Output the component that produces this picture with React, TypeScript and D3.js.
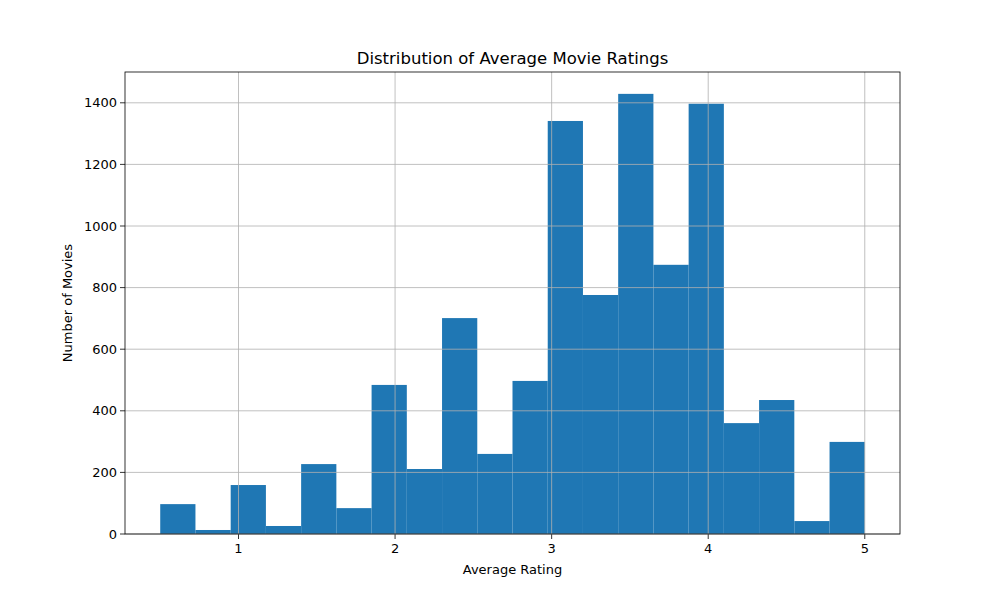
import * as d3 from 'd3';

const binEdges = d3.range(21).map(i => 0.5 + i * 0.225);
const counts = [97, 13, 159, 26, 227, 84, 484, 211, 701, 260, 497, 1341, 776, 1429, 874, 1397, 360, 435, 42, 299];
const xTicks = [1, 2, 3, 4, 5];
const yTicks = [0, 200, 400, 600, 800, 1000, 1200, 1400];

const W = 1000;
const H = 600;
const margin = { top: 72, right: 100, bottom: 66, left: 125 };

export default function App() {
  const innerW = W - margin.left - margin.right;
  const innerH = H - margin.top - margin.bottom;
  const x = d3.scaleLinear().domain([0.275, 5.225]).range([0, innerW]);
  const y = d3.scaleLinear().domain([0, 1500]).range([innerH, 0]);
  const font = 'DejaVu Sans, sans-serif';

  return (
    <svg width={W} height={H} style={{ position: 'absolute', left: 0, top: 0, background: '#fff' }} fontFamily={font}>
      <g transform={`translate(${margin.left},${margin.top})`}>
        {counts.map((c, i) => (
          <rect key={i} x={x(binEdges[i])} y={y(c)} width={x(binEdges[i + 1]) - x(binEdges[i])}
            height={innerH - y(c)} fill="#1f77b4" />
        ))}
        {xTicks.map(t => (
          <g key={t}>
            <line x1={x(t)} x2={x(t)} y1={0} y2={innerH} stroke="#b0b0b0" strokeWidth={0.8} />
            <line x1={x(t)} x2={x(t)} y1={innerH} y2={innerH + 5} stroke="#000" strokeWidth={0.8} />
            <text x={x(t)} y={innerH + 19} textAnchor="middle" fontSize={13}>{t}</text>
          </g>
        ))}
        {yTicks.map(t => (
          <g key={t}>
            <line x1={0} x2={innerW} y1={y(t)} y2={y(t)} stroke="#b0b0b0" strokeWidth={0.8} />
            <line x1={-5} x2={0} y1={y(t)} y2={y(t)} stroke="#000" strokeWidth={0.8} />
            <text x={-8} y={y(t)} dy="0.35em" textAnchor="end" fontSize={13}>{t}</text>
          </g>
        ))}
        <rect x={0} y={0} width={innerW} height={innerH} fill="none" stroke="#000" strokeWidth={0.8} />
        <text x={innerW / 2} y={-8} textAnchor="middle" fontSize={16.5}>Distribution of Average Movie Ratings</text>
        <text x={innerW / 2} y={innerH + 40} textAnchor="middle" fontSize={13}>Average Rating</text>
        <text transform={`translate(${-53},${innerH / 2}) rotate(-90)`} textAnchor="middle" fontSize={13}>Number of Movies</text>
      </g>
    </svg>
  );
}
